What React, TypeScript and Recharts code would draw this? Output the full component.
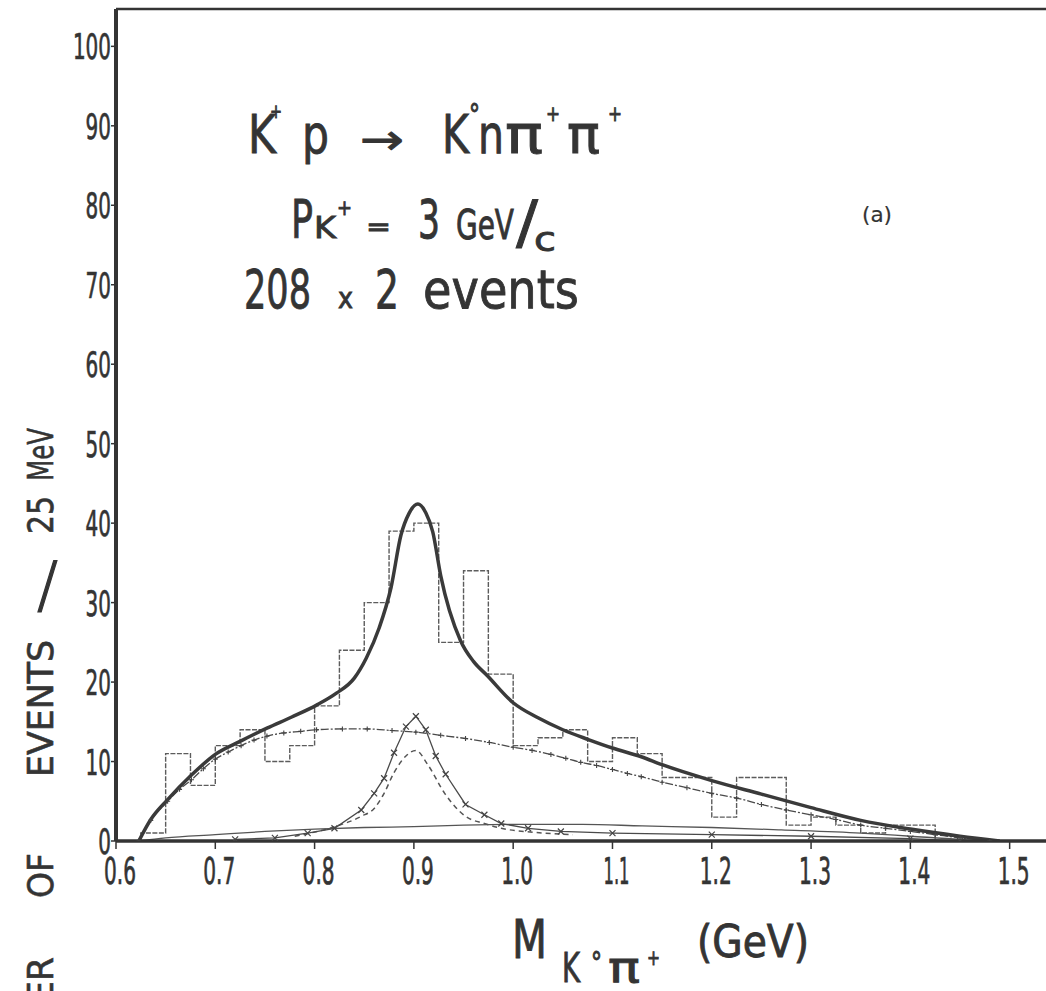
import { ComposedChart, Line, XAxis, YAxis } from 'recharts';

// ── histogram: 25 MeV bins, lower edge (GeV) and events per bin ──────────────
const binLow = [
  0.625, 0.65, 0.675, 0.7, 0.725, 0.75, 0.775, 0.8, 0.825, 0.85, 0.875, 0.9, 0.925, 0.95, 0.975, 1.0,
  1.025, 1.05, 1.075, 1.1, 1.125, 1.15, 1.175, 1.2, 1.225, 1.25, 1.275, 1.3, 1.325, 1.35, 1.375, 1.4,
];
const binCounts = [1, 11, 7, 12, 14, 10, 12, 17, 24, 30, 39, 40, 25, 34, 21, 12, 13, 14, 10, 13, 11, 8, 8, 3, 8, 8, 2, 3, 2, 1, 2, 2];
const lastBinHigh = 1.425;

// ── fitted curves ────────────────────────────────────────────────────────────
const fitMass = [0.623, 0.635, 0.652, 0.676, 0.7, 0.726, 0.752, 0.777, 0.802, 0.822, 0.84, 0.852, 0.865, 0.877, 0.887, 0.895, 0.904, 0.912, 0.919, 0.927, 0.947, 0.96, 0.974, 1.0, 1.025, 1.05, 1.075, 1.1, 1.129, 1.15, 1.2, 1.25, 1.3, 1.35, 1.4, 1.45, 1.49];
const fitEvents = [0, 2.7, 5.2, 8.3, 10.9, 12.6, 14.2, 15.6, 17.1, 18.6, 20.5, 23.0, 26.8, 31.9, 38.5, 41.2, 42.4, 41.3, 38.9, 33.4, 25.2, 22.6, 20.8, 17.4, 15.5, 14.0, 12.8, 11.7, 10.6, 9.6, 7.6, 5.9, 4.2, 2.6, 1.5, 0.6, 0];

// phase-space background (curve with + marks)
const bgMass = [0.623, 0.635, 0.652, 0.664, 0.676, 0.688, 0.7, 0.713, 0.726, 0.739, 0.752, 0.769, 0.786, 0.802, 0.828, 0.853, 0.878, 0.902, 0.927, 0.952, 0.976, 1.0, 1.019, 1.038, 1.053, 1.068, 1.084, 1.1, 1.115, 1.129, 1.15, 1.175, 1.2, 1.225, 1.25, 1.275, 1.3, 1.325, 1.35, 1.375, 1.4, 1.425, 1.45, 1.48];
const bgEvents = [0, 2.6, 5.0, 6.5, 7.7, 9.1, 10.3, 11.2, 12.0, 12.7, 13.2, 13.6, 13.8, 14.0, 14.1, 14.1, 13.9, 13.7, 13.3, 12.9, 12.4, 11.8, 11.4, 10.9, 10.4, 9.9, 9.5, 9.0, 8.5, 8.1, 7.4, 6.7, 6.0, 5.4, 4.6, 3.9, 3.3, 2.7, 2.0, 1.6, 1.2, 0.8, 0.4, 0];

// K*(890) contribution (curve with x marks)
const kstarMass = [0.72, 0.76, 0.793, 0.82, 0.847, 0.86, 0.87, 0.88, 0.892, 0.902, 0.912, 0.922, 0.932, 0.952, 0.971, 0.988, 1.015, 1.048, 1.1, 1.2, 1.3, 1.4, 1.45];
const kstarEvents = [0.2, 0.4, 1.0, 1.6, 3.9, 6.0, 7.9, 11.1, 14.4, 15.7, 14.0, 10.7, 8.4, 4.6, 3.3, 2.2, 1.6, 1.2, 1.0, 0.8, 0.6, 0.3, 0];

// dashed K* curve
const dashMass = [0.78, 0.82, 0.847, 0.86, 0.87, 0.88, 0.892, 0.902, 0.914, 0.931, 0.952, 0.971, 0.988, 1.02, 1.06];
const dashEvents = [0.6, 1.8, 3.1, 4.1, 6.0, 8.6, 10.7, 11.4, 9.6, 6.0, 3.1, 2.2, 1.6, 1.1, 0.8];

// low broad curve
const broadMass = [0.623, 0.65, 0.7, 0.75, 0.8, 0.85, 0.9, 0.95, 1.0, 1.07, 1.13, 1.2, 1.27, 1.35, 1.4, 1.45, 1.47];
const broadEvents = [0, 0.4, 0.8, 1.2, 1.5, 1.7, 1.8, 2.0, 2.1, 2.1, 1.9, 1.7, 1.4, 1.0, 0.6, 0.2, 0];

const xTicks = [0.6, 0.7, 0.8, 0.9, 1.0, 1.1, 1.2, 1.3, 1.4, 1.5];
const xTickLabels = ['0.6', '0.7', '0.8', '0.9', '1.0', '1.1', '1.2', '1.3', '1.4', '1.5'];
const topTicks = [0.7, 0.8, 0.9, 1.0, 1.1, 1.2, 1.3, 1.4, 1.5];
const yTicks = [0, 10, 20, 30, 40, 50, 60, 70, 80, 90, 100];

const zip = (xs: number[], ys: number[]) => xs.map((x, i) => ({ x, y: ys[i] }));

const histData = [{ x: binLow[0], y: 0 }, ...zip(binLow, binCounts), { x: lastBinHigh, y: 0 }];
const fitData = zip(fitMass, fitEvents);
const bgData = zip(bgMass, bgEvents);
const kstarData = zip(kstarMass, kstarEvents);
const dashData = zip(dashMass, dashEvents);
const broadData = zip(broadMass, broadEvents);

const INK = '#343434';
const NUM_FONT = "'DejaVu Sans Condensed', 'Liberation Sans Narrow', 'DejaVu Sans', sans-serif";
const TXT_FONT = "'DejaVu Sans', sans-serif";

const PlusDot = (p: any) =>
  p.cx == null ? null : (
    <path key={p.index} d={`M${p.cx - 2.5},${p.cy}h5M${p.cx},${p.cy - 2.5}v5`} stroke="#444" strokeWidth={1.1} />
  );

const CrossDot = (p: any) =>
  p.cx == null ? null : (
    <path
      key={p.index}
      d={`M${p.cx - 3},${p.cy - 3}l6,6M${p.cx - 3},${p.cy + 3}l6,-6`}
      stroke="#444"
      strokeWidth={1.2}
    />
  );

const YTick = ({ x, y, payload }: any) => {
  const s = String(payload.value);
  const w = s.length * 12.7;
  return (
    <text x={x - w} y={y + 13} fontSize={36} fontFamily={NUM_FONT} fill={INK} stroke={INK} strokeWidth={0.7} textLength={w} lengthAdjust="spacingAndGlyphs">
      {s}
    </text>
  );
};

const XTick = ({ x, y, payload, index }: any) => {
  const s = xTickLabels[index] ?? String(payload.value);
  const w = s === '1.1' ? 26 : 32;
  return (
    <text x={x + 4 - w / 2} y={y + 35} fontSize={37} fontFamily={NUM_FONT} fill={INK} stroke={INK} strokeWidth={0.7} textLength={w} lengthAdjust="spacingAndGlyphs">
      {s}
    </text>
  );
};

// one piece of hand-lettered annotation, squeezed to the width it has in the figure
const T = ({ x, y, w, size, bold = 0.9, children }: { x: number; y: number; w: number; size: number; bold?: number; children: any }) => (
  <text x={x} y={y} fontSize={size} fontFamily={TXT_FONT} fill={INK} stroke={INK} strokeWidth={bold} textLength={w} lengthAdjust="spacingAndGlyphs">
    {children}
  </text>
);

// rotated word of the y-axis title, running upwards from y0
const V = ({ y0, len, children }: { y0: number; len: number; children: any }) => (
  <text
    transform={`translate(53, ${y0}) rotate(-90)`}
    fontSize={36}
    fontFamily={TXT_FONT}
    fill={INK}
    stroke={INK}
    strokeWidth={0.6}
    textLength={len}
    lengthAdjust="spacingAndGlyphs"
  >
    {children}
  </text>
);

export default function App() {
  return (
    <div style={{ position: 'absolute', left: 0, top: 0, width: 1046, height: 991, background: '#fff' }}>
      <ComposedChart width={1046} height={991} margin={{ top: 9, right: 0, bottom: 110, left: 56 }}>
        <XAxis
          dataKey="x"
          type="number"
          domain={[0.6, 1.5366]}
          allowDataOverflow
          ticks={xTicks}
          interval={0}
          height={40}
          tickSize={8}
          tickMargin={0}
          axisLine={{ stroke: INK, strokeWidth: 3.5 }}
          tickLine={{ stroke: INK, strokeWidth: 1.5 }}
          tick={XTick}
        />
        <XAxis
          xAxisId="top"
          orientation="top"
          dataKey="x"
          type="number"
          domain={[0.6, 1.5366]}
          allowDataOverflow
          ticks={topTicks}
          interval={0}
          height={1}
          mirror
          tickSize={7}
          axisLine={{ stroke: INK, strokeWidth: 2.5 }}
          tickLine={{ stroke: INK, strokeWidth: 1.5 }}
          tick={false}
        />
        <YAxis
          type="number"
          domain={[0, 104.7]}
          allowDataOverflow
          ticks={yTicks}
          interval={0}
          width={60}
          tickSize={5}
          tickMargin={0}
          axisLine={{ stroke: INK, strokeWidth: 4 }}
          tickLine={{ stroke: INK, strokeWidth: 1.5 }}
          tick={YTick}
        />

        {/* histogram */}
        <Line data={histData} dataKey="y" type="stepAfter" stroke="#5c5c5c" strokeWidth={1.4} strokeDasharray="5 1.5" dot={false} activeDot={false} isAnimationActive={false} />

        {/* low broad component */}
        <Line data={broadData} dataKey="y" type="monotone" stroke="#555" strokeWidth={1.3} dot={false} activeDot={false} isAnimationActive={false} />

        {/* dashed K* */}
        <Line data={dashData} dataKey="y" type="monotone" stroke="#555" strokeWidth={1.5} strokeDasharray="5 4" dot={false} activeDot={false} isAnimationActive={false} />

        {/* K* with x marks */}
        <Line data={kstarData} dataKey="y" type="linear" stroke="#4a4a4a" strokeWidth={1.3} dot={CrossDot} activeDot={false} isAnimationActive={false} />

        {/* background with + marks */}
        <Line data={bgData} dataKey="y" type="monotone" stroke="#4a4a4a" strokeWidth={1.3} strokeDasharray="8 2 2 2" dot={PlusDot} activeDot={false} isAnimationActive={false} />

        {/* total fit */}
        <Line data={fitData} dataKey="y" type="monotone" stroke="#3a3a3a" strokeWidth={3.5} dot={false} activeDot={false} isAnimationActive={false} />
      </ComposedChart>

      <svg width={1046} height={991} style={{ position: 'absolute', left: 0, top: 0, pointerEvents: 'none' }}>
        {/* K+p -> K0 n pi+ pi+ */}
        <T x={248} y={153} w={28} size={54}>K</T>
        <T x={270} y={118} w={12} size={20}>+</T>
        <T x={302} y={153} w={27} size={54}>p</T>
        <T x={360} y={154} w={44} size={42}>→</T>
        <T x={442} y={153} w={27} size={54}>K</T>
        <T x={469} y={125} w={11} size={30}>°</T>
        <T x={478} y={153} w={26} size={54}>n</T>
        <T x={505} y={153} w={38} size={54}>π</T>
        <T x={546} y={121} w={14} size={22}>+</T>
        <T x={567} y={153} w={33} size={54}>π</T>
        <T x={608} y={121} w={14} size={22}>+</T>

        {/* P_K+ = 3 GeV/c */}
        <T x={291} y={238} w={22} size={54}>P</T>
        <T x={314} y={238} w={22} size={30}>K</T>
        <T x={337} y={215} w={15} size={22}>+</T>
        <T x={366} y={236} w={25} size={26}>=</T>
        <T x={418} y={238} w={22} size={54}>3</T>
        <T x={456} y={239} w={58} size={40}>GeV</T>
        <T x={516} y={243} w={22} size={58}>/</T>
        <T x={534} y={251} w={22} size={34}>c</T>

        {/* 208 x 2 events */}
        <T x={244} y={308} w={67} size={54}>208</T>
        <T x={338} y={308} w={15} size={28}>x</T>
        <T x={375} y={308} w={24} size={54}>2</T>
        <T x={423} y={308} w={156} size={54}>events</T>

        <T x={862} y={222} w={30} size={22} bold={0.2}>(a)</T>

        {/* x-axis title: M K0 pi+ (GeV) */}
        <T x={512} y={958} w={35} size={54}>M</T>
        <T x={562} y={982} w={18} size={40}>K</T>
        <T x={591} y={973} w={11} size={30}>°</T>
        <T x={608} y={982} w={32} size={42}>π</T>
        <T x={647} y={965} w={13} size={22}>+</T>
        <T x={697} y={957} w={112} size={44}>(GeV)</T>

        {/* y-axis title: NUMBER OF EVENTS / 25 MeV */}
        <V y0={481} len={53}>MeV</V>
        <V y0={534} len={38}>25</V>
        <text x={37} y={606} fontSize={62} fontWeight={200} fontFamily={TXT_FONT} fill={INK} stroke={INK} strokeWidth={1.2}>/</text>
        <V y0={777} len={137}>EVENTS</V>
        <V y0={898} len={45}>OF</V>
        <V y0={1107} len={150}>NUMBER</V>
      </svg>
    </div>
  );
}
